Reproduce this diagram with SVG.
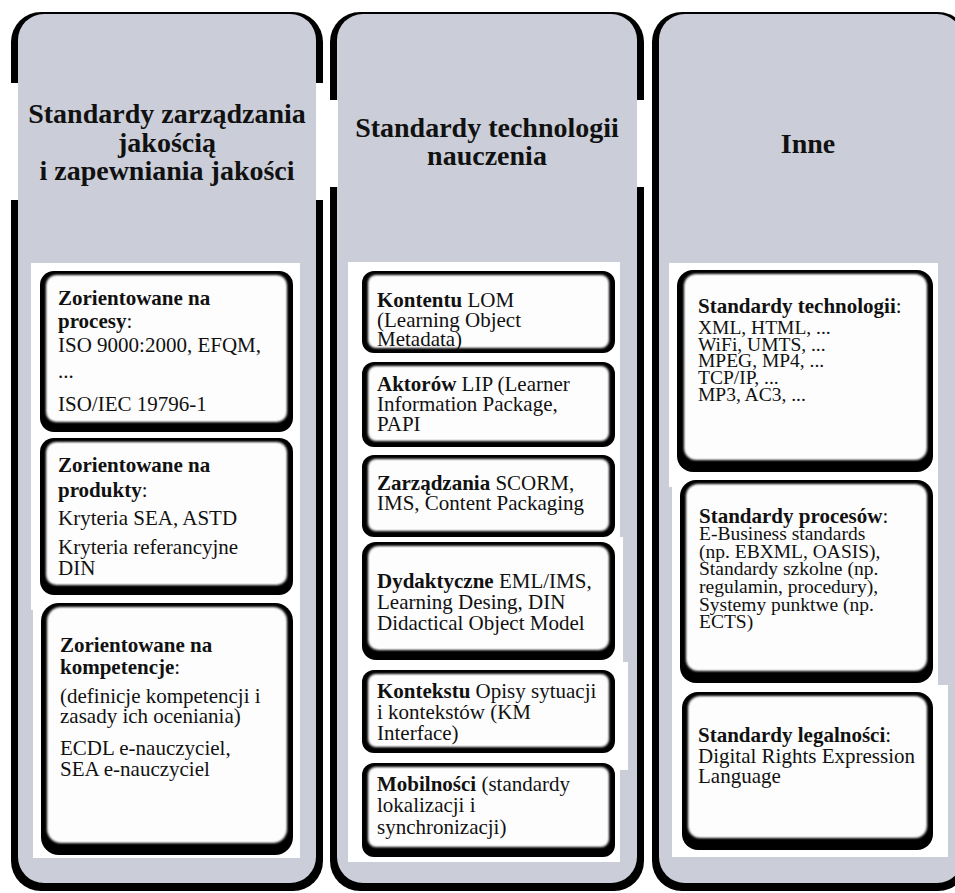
<svg xmlns="http://www.w3.org/2000/svg" width="955" height="893" viewBox="0 0 955 893">
  <defs>
    <filter id="soft" x="-5%" y="-5%" width="110%" height="110%">
      <feGaussianBlur stdDeviation="1"/>
    </filter>
    <style>
      .rim { fill: #000; }
      .panel { fill: #cbced8; }
      .bg { fill: #fff; }
      .tile { fill: #ffffff; }
      .face { fill: #fdfdfd; filter: url(#soft); }
      text { font-family: "Liberation Serif", "Times New Roman", serif; fill: #111; }
      .t { font-size: 21px; }
      .s { font-size: 19.5px; }
      .h { font-size: 28px; font-weight: bold; text-anchor: middle; }
      .b { font-weight: bold; }
    </style>
  </defs>

  <rect width="955" height="893" class="bg"/>

  <!-- column 1: quality standards -->
  <g id="col-quality">
    <rect class="rim" x="11" y="12" width="312" height="879" rx="30"/>
    <rect class="panel" x="18" y="14" width="298" height="869" rx="26"/>
    <rect class="bg" x="8" y="83" width="319" height="117"/>
    <rect class="panel" x="18" y="83" width="298" height="117"/>
    <text class="h" x="167" y="123">Standardy zarządzania</text>
    <text class="h" x="167" y="152">jakością</text>
    <text class="h" x="167" y="180">i zapewniania jakości</text>
    <polygon class="tile" points="31,263 300,263 300,858 33,858 33,610 31,610"/>
  </g>

  <!-- column 2: learning technology standards -->
  <g id="col-tech">
    <rect class="rim" x="330" y="12" width="314" height="879" rx="30"/>
    <rect class="panel" x="337" y="14" width="300" height="869" rx="26"/>
    <rect class="bg" x="327" y="100" width="323" height="87"/>
    <rect class="panel" x="338" y="100" width="299" height="87"/>
    <text class="h" x="487" y="137">Standardy technologii</text>
    <text class="h" x="487" y="165">nauczenia</text>
    <polygon class="tile" points="348,262 620,262 620,537 623,537 623,662 628,662 628,770 620,770 620,862 348,862"/>
  </g>

  <!-- column 3: other standards -->
  <g id="col-other">
    <rect class="rim" x="652" y="12" width="316" height="879" rx="30"/>
    <rect class="panel" x="659" y="14" width="304" height="869" rx="26"/>
    <text class="h" x="808" y="153">Inne</text>
    <polygon class="tile" points="669,263 938,263 938,685 948,685 948,857 672,857 672,487 669,487"/>
  </g>

  <!-- column 1 boxes -->
  <g id="q-processes">
    <rect class="rim" x="40" y="271" width="253" height="161" rx="14"/>
    <rect class="face" x="46" y="275" width="241" height="147" rx="10"/>
    <text class="t" x="58" y="305"><tspan class="b">Zorientowane na</tspan></text>
    <text class="t" x="58" y="328"><tspan class="b">procesy</tspan>:</text>
    <text class="t" x="58" y="352">ISO 9000:2000, EFQM,</text>
    <text class="t" x="58" y="378">...</text>
    <text class="t" x="58" y="411">ISO/IEC 19796-1</text>
  </g>
  <g id="q-products">
    <rect class="rim" x="40" y="438" width="253" height="157" rx="14"/>
    <rect class="face" x="46" y="442" width="241" height="143" rx="10"/>
    <text class="t" x="58" y="472"><tspan class="b">Zorientowane na</tspan></text>
    <text class="t" x="58" y="497"><tspan class="b">produkty</tspan>:</text>
    <text class="t" x="58" y="525">Kryteria SEA, ASTD</text>
    <text class="t" x="58" y="554">Kryteria referancyjne</text>
    <text class="t" x="58" y="575">DIN</text>
  </g>
  <g id="q-competences">
    <rect class="rim" x="41" y="603" width="252" height="252" rx="18"/>
    <rect class="face" x="47" y="607" width="240" height="236" rx="14"/>
    <text class="t" x="60" y="652"><tspan class="b">Zorientowane na</tspan></text>
    <text class="t" x="60" y="674"><tspan class="b">kompetencje</tspan>:</text>
    <text class="t" x="60" y="703">(definicje kompetencji i</text>
    <text class="t" x="60" y="723">zasady ich oceniania)</text>
    <text class="t" x="60" y="755">ECDL e-nauczyciel,</text>
    <text class="t" x="60" y="776">SEA e-nauczyciel</text>
  </g>

  <!-- column 2 boxes -->
  <g id="t-content">
    <rect class="rim" x="362" y="271" width="253" height="82" rx="12"/>
    <rect class="face" x="368" y="275" width="241" height="73" rx="8"/>
    <text class="t" x="377" y="307"><tspan class="b">Kontentu</tspan> LOM</text>
    <text class="t" x="377" y="327">(Learning Object</text>
    <text class="t" x="377" y="346">Metadata)</text>
  </g>
  <g id="t-actors">
    <rect class="rim" x="362" y="362" width="253" height="85" rx="12"/>
    <rect class="face" x="368" y="366" width="241" height="75" rx="8"/>
    <text class="t" x="377" y="391"><tspan class="b">Aktorów</tspan> LIP (Learner</text>
    <text class="t" x="377" y="411">Information Package,</text>
    <text class="t" x="377" y="431">PAPI</text>
  </g>
  <g id="t-management">
    <rect class="rim" x="362" y="455" width="253" height="82" rx="12"/>
    <rect class="face" x="368" y="459" width="241" height="72" rx="8"/>
    <text class="t" x="377" y="490"><tspan class="b">Zarządzania</tspan> SCORM,</text>
    <text class="t" x="377" y="510">IMS, Content Packaging</text>
  </g>
  <g id="t-didactic">
    <rect class="rim" x="362" y="542" width="253" height="118" rx="14"/>
    <rect class="face" x="368" y="546" width="241" height="104" rx="10"/>
    <text class="t" x="377" y="588"><tspan class="b">Dydaktyczne</tspan> EML/IMS,</text>
    <text class="t" x="377" y="609">Learning Desing, DIN</text>
    <text class="t" x="377" y="630">Didactical Object Model</text>
  </g>
  <g id="t-context">
    <rect class="rim" x="362" y="670" width="253" height="83" rx="12"/>
    <rect class="face" x="368" y="674" width="241" height="73" rx="8"/>
    <text class="t" x="377" y="698"><tspan class="b">Kontekstu</tspan> Opisy sytuacji</text>
    <text class="t" x="377" y="719">i kontekstów (KM</text>
    <text class="t" x="377" y="740">Interface)</text>
  </g>
  <g id="t-mobility">
    <rect class="rim" x="362" y="763" width="253" height="94" rx="12"/>
    <rect class="face" x="368" y="767" width="241" height="80" rx="8"/>
    <text class="t" x="377" y="791"><tspan class="b">Mobilności</tspan> (standardy</text>
    <text class="t" x="377" y="812">lokalizacji i</text>
    <text class="t" x="377" y="834">synchronizacji)</text>
  </g>

  <!-- column 3 boxes -->
  <g id="o-technology">
    <rect class="rim" x="677" y="270" width="256" height="202" rx="16"/>
    <rect class="face" x="684" y="274" width="243" height="186" rx="12"/>
    <text class="t" x="698" y="313"><tspan class="b">Standardy technologii</tspan>:</text>
    <text class="s" x="698" y="334">XML, HTML, ...</text>
    <text class="s" x="698" y="351">WiFi, UMTS, ...</text>
    <text class="s" x="698" y="367">MPEG, MP4, ...</text>
    <text class="s" x="698" y="384">TCP/IP, ...</text>
    <text class="s" x="698" y="401">MP3, AC3, ...</text>
  </g>
  <g id="o-processes">
    <rect class="rim" x="680" y="480" width="253" height="203" rx="16"/>
    <rect class="face" x="686" y="484" width="241" height="187" rx="12"/>
    <text class="t" x="699" y="523"><tspan class="b">Standardy procesów</tspan>:</text>
    <text class="s" x="699" y="540">E-Business standards</text>
    <text class="s" x="699" y="558">(np. EBXML, OASIS),</text>
    <text class="s" x="699" y="575">Standardy szkolne (np.</text>
    <text class="s" x="699" y="593">regulamin, procedury),</text>
    <text class="s" x="699" y="611">Systemy punktwe (np.</text>
    <text class="s" x="699" y="628">ECTS)</text>
  </g>
  <g id="o-legal">
    <rect class="rim" x="682" y="692" width="251" height="158" rx="16"/>
    <rect class="face" x="688" y="696" width="239" height="142" rx="12"/>
    <text class="t" x="698" y="742"><tspan class="b">Standardy legalności</tspan>:</text>
    <text class="t" x="698" y="763">Digital Rights Expression</text>
    <text class="t" x="698" y="783">Language</text>
  </g>

  <g id="connectors"/>
</svg>
